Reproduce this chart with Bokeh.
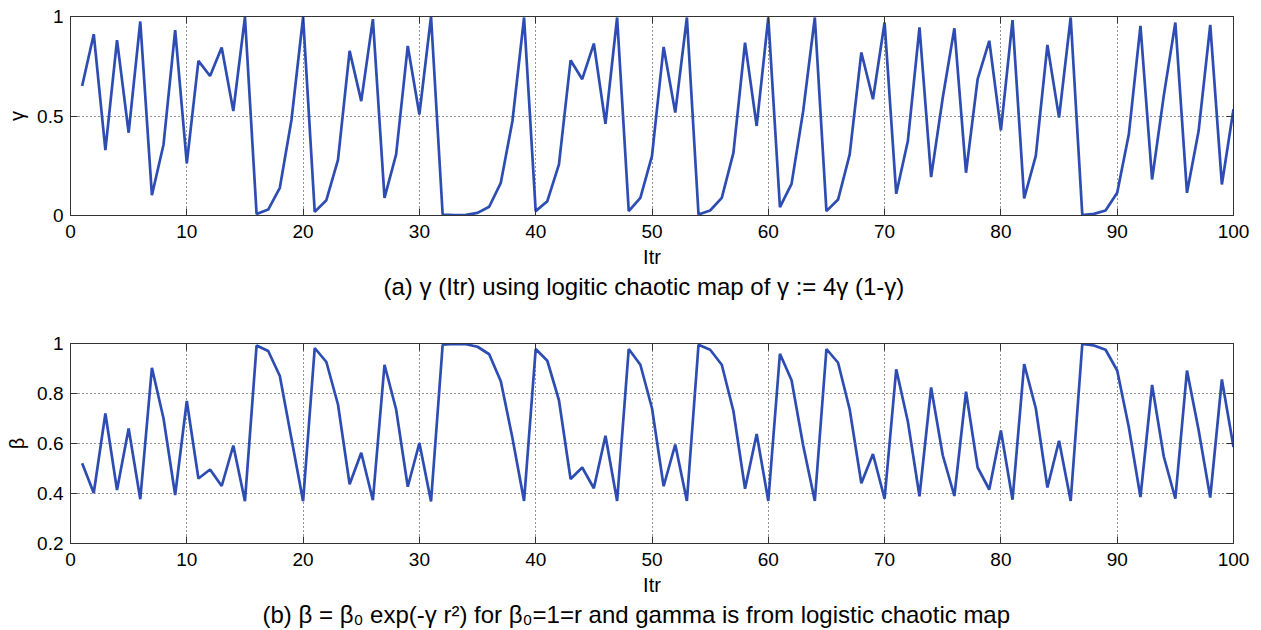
from bokeh.plotting import figure
from bokeh.models import LinearAxis, FixedTicker, Range1d, Title, ColumnDataSource
from bokeh.layouts import column
from bokeh.embed import file_html
from bokeh.resources import INLINE

# ---------------- data ----------------
itr = list(range(1, 101))

gamma = [0.651, 0.911, 0.329, 0.881, 0.416, 0.975, 0.102, 0.357, 0.931, 0.262,
         0.777, 0.701, 0.844, 0.525, 0.997, 0.008, 0.030, 0.139, 0.480, 0.997,
         0.018, 0.077, 0.280, 0.827, 0.575, 0.987, 0.089, 0.307, 0.852, 0.508,
         1.000, 0.005, 0.002, 0.003, 0.013, 0.044, 0.164, 0.475, 0.995, 0.022,
         0.072, 0.257, 0.780, 0.685, 0.864, 0.461, 0.995, 0.022, 0.089, 0.300,
         0.847, 0.517, 0.995, 0.005, 0.025, 0.089, 0.315, 0.869, 0.450, 0.995,
         0.042, 0.159, 0.525, 0.995, 0.022, 0.080, 0.307, 0.819, 0.584, 0.970,
         0.109, 0.374, 0.945, 0.193, 0.592, 0.941, 0.215, 0.685, 0.878, 0.428,
         0.982, 0.086, 0.300, 0.857, 0.492, 0.995, 0.002, 0.008, 0.025, 0.114,
         0.408, 0.953, 0.181, 0.600, 0.970, 0.114, 0.424, 0.958, 0.156, 0.534]

beta = [0.521, 0.402, 0.720, 0.414, 0.660, 0.377, 0.903, 0.700, 0.394, 0.770,
        0.460, 0.496, 0.430, 0.592, 0.369, 0.992, 0.970, 0.870, 0.619, 0.369,
        0.982, 0.926, 0.756, 0.437, 0.563, 0.373, 0.915, 0.736, 0.427, 0.602,
        0.368, 0.995, 0.998, 0.997, 0.987, 0.957, 0.849, 0.622, 0.370, 0.978,
        0.931, 0.773, 0.458, 0.504, 0.421, 0.631, 0.370, 0.978, 0.915, 0.741,
        0.429, 0.596, 0.370, 0.995, 0.975, 0.915, 0.730, 0.419, 0.638, 0.370,
        0.959, 0.853, 0.592, 0.370, 0.978, 0.923, 0.736, 0.441, 0.558, 0.379,
        0.897, 0.688, 0.389, 0.824, 0.553, 0.390, 0.807, 0.504, 0.416, 0.652,
        0.375, 0.918, 0.741, 0.424, 0.611, 0.370, 0.998, 0.992, 0.975, 0.892,
        0.665, 0.386, 0.834, 0.549, 0.379, 0.892, 0.654, 0.384, 0.856, 0.586]

x_ticks = [0, 10, 20, 30, 40, 50, 60, 70, 80, 90, 100]
gamma_ticks = [0, 0.5, 1]
gamma_tick_labels = {0: "0", 0.5: "0.5", 1: "1"}
beta_ticks = [0.2, 0.4, 0.6, 0.8, 1]
beta_tick_labels = {0.2: "0.2", 0.4: "0.4", 0.6: "0.6", 0.8: "0.8", 1: "1"}

x_label = "Itr"
caption_a = "(a) \u03b3 (Itr) using logitic chaotic map of \u03b3 := 4\u03b3 (1-\u03b3)"
caption_b = "(b) \u03b2 = \u03b2\u2080 exp(-\u03b3 r\u00b2) for \u03b2\u2080=1=r and gamma is from logistic chaotic map"

# ---------------- styling ----------------
FONT = "Liberation Sans"
LINE_COLOR = "#2d4db3"
AXIS_COLOR = "#333333"
W = 1261
FRAME_W = 1163


def make_panel(y, ylo, yhi, yticks, ylabels, ylabel, caption, cap_offset,
               height, top, bottom):
    p = figure(width=W, height=height, output_backend="svg", toolbar_location=None,
               x_range=Range1d(0, 100), y_range=Range1d(ylo, yhi),
               min_border_left=70, min_border_right=W - 70 - FRAME_W,
               min_border_top=top, min_border_bottom=bottom,
               background_fill_color="white", border_fill_color="white")
    p.outline_line_color = AXIS_COLOR
    p.outline_line_width = 1

    src = ColumnDataSource(dict(x=itr, y=y))
    p.line("x", "y", source=src, line_color=LINE_COLOR, line_width=2.7)

    xt = FixedTicker(ticks=x_ticks)
    yt = FixedTicker(ticks=yticks)
    p.xaxis.ticker = xt
    p.yaxis.ticker = yt
    p.yaxis.major_label_overrides = ylabels

    for ax in (p.xaxis[0], p.yaxis[0]):
        ax.major_tick_in = 7
        ax.major_tick_out = 0
        ax.minor_tick_line_color = None
        ax.axis_line_color = AXIS_COLOR
        ax.major_tick_line_color = AXIS_COLOR
        ax.major_label_text_font = FONT
        ax.major_label_text_font_size = "19px"
        ax.major_label_text_color = "black"
        ax.axis_label_text_font = FONT
        ax.axis_label_text_font_size = "20px"
        ax.axis_label_text_font_style = "normal"
        ax.axis_label_text_color = "black"

    p.xaxis.major_label_standoff = 9
    p.xaxis.axis_label = x_label
    p.xaxis.axis_label_standoff = 5
    p.yaxis.major_label_standoff = 7
    p.yaxis.axis_label = ylabel
    p.yaxis.axis_label_standoff = 6

    # box ticks on right and top (MATLAB style), without labels
    for place, tk in (("right", yt), ("above", xt)):
        ax = LinearAxis(ticker=tk, major_tick_in=7, major_tick_out=0,
                        minor_tick_line_color=None,
                        axis_line_color=AXIS_COLOR, major_tick_line_color=AXIS_COLOR,
                        major_label_text_font_size="1px", major_label_text_color=None,
                        major_label_standoff=0)
        p.add_layout(ax, place)

    for g, tk in ((p.xgrid[0], xt), (p.ygrid[0], yt)):
        g.ticker = tk
        g.grid_line_color = "black"
        g.grid_line_alpha = 0.85
        g.grid_line_dash = "1 3"
        g.grid_line_width = 1

    p.add_layout(Title(text=caption, align="left", text_font=FONT,
                       text_font_size="24px", text_font_style="normal",
                       text_color="black", standoff=0, offset=cap_offset), "below")
    return p


p1 = make_panel(gamma, 0, 1, gamma_ticks, gamma_tick_labels, "\u03b3", caption_a, 313,
                height=300, top=16, bottom=85)
p2 = make_panel(beta, 0.2, 1, beta_ticks, beta_tick_labels, "\u03b2", caption_b, 192,
                height=330, top=43, bottom=87)

layout = column(p1, p2, spacing=0)
open("out.html", "w").write(file_html(layout, INLINE))
